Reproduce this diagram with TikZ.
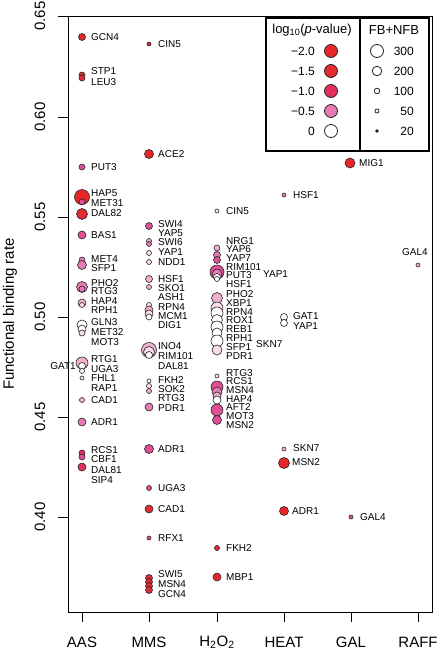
\documentclass[tikz,border=0pt]{standalone}
\usepackage{fontspec}
\setmainfont{Liberation Sans}

%% Colours for log10(p-value), from -2.0 (red) to 0 (white)
\definecolor{pvA}{HTML}{E8262A}
\definecolor{pvB}{HTML}{E22B33}
\definecolor{pvC}{HTML}{E1305A}
\definecolor{pvD}{HTML}{DF4F95}
\definecolor{pvE}{HTML}{E57AB5}
\definecolor{pvF}{HTML}{F1B0CF}
\definecolor{pvG}{HTML}{FADCEA}

\begin{document}
\begin{tikzpicture}[
    x=1pt, y=-1pt, %% one unit is one pixel of the plot, y runs down
    frame/.style={
        draw=black,
        line width=1pt
    },
    legframe/.style={
        draw=black,
        line width=1.3pt
    },
    dot/.style={
        draw=black!85,
        line width=0.6pt
    },
    legdot/.style={
        circle,
        draw=black!85,
        line width=0.8pt,
        inner sep=0pt
    },
    lbl/.style={
        anchor=west,
        inner sep=0pt,
        font=\fontsize{10}{11}\selectfont
    },
    ticklbl/.style={
        rotate=90,
        inner sep=0pt,
        font=\fontsize{15}{16}\selectfont
    },
    catlbl/.style={
        inner sep=0pt,
        font=\fontsize{15}{16}\selectfont
    },
    leghead/.style={
        inner sep=0pt,
        font=\fontsize{13}{14}\selectfont
    },
    legnum/.style={
        anchor=east,
        inner sep=0pt,
        font=\fontsize{12}{13}\selectfont
    }
]
\useasboundingbox (0,0) rectangle (440,654);

%% Plot frame
\draw[frame] (68,16) rectangle (432,612);

%% Y axis
\draw[frame] (58,16) -- (68,16);
\draw[frame] (58,117) -- (68,117);
\draw[frame] (58,217) -- (68,217);
\draw[frame] (58,317) -- (68,317);
\draw[frame] (58,417) -- (68,417);
\draw[frame] (58,517) -- (68,517);
\node[ticklbl] (y065) at (40,16) {0.65};
\node[ticklbl] (y060) at (40,117) {0.60};
\node[ticklbl] (y055) at (40,217) {0.55};
\node[ticklbl] (y050) at (40,317) {0.50};
\node[ticklbl] (y045) at (40,417) {0.45};
\node[ticklbl] (y040) at (40,517) {0.40};
\node[ticklbl] (ytitle) at (10,314) {Functional binding rate};

%% X axis
\draw[frame] (82,612) -- (82,622);
\draw[frame] (149,612) -- (149,622);
\draw[frame] (217,612) -- (217,622);
\draw[frame] (284,612) -- (284,622);
\draw[frame] (351,612) -- (351,622);
\draw[frame] (418,612) -- (418,622);
\node[catlbl] (aas) at (82,642) {AAS};
\node[catlbl] (mms) at (149,642) {MMS};
\node[catlbl] (hoo) at (217,642) {H\textsubscript{2}O\textsubscript{2}};
\node[catlbl] (heat) at (284,642) {HEAT};
\node[catlbl] (gal) at (351,642) {GAL};
\node[catlbl] (raff) at (418,642) {RAFF};

%% AAS dots
\draw[dot, fill=pvA] (82,37) circle (3.5pt);
\draw[dot, fill=pvB] (82,75) circle (3pt);
\draw[dot, fill=pvB] (82,78) circle (3pt);
\draw[dot, fill=pvD] (82,167) circle (3pt);
\draw[dot, fill=pvA] (82,197) circle (7.5pt);
\draw[dot, fill=pvD] (82,202) circle (3pt);
\draw[dot, fill=pvB] (82,214) circle (5.5pt);
\draw[dot, fill=pvD] (82,235) circle (4pt);
\draw[dot, fill=pvE] (82,260) circle (3pt);
\draw[dot, fill=pvE] (82,265) circle (4.5pt);
\draw[dot, fill=pvE] (82,287) circle (5.5pt);
\draw[dot, fill=pvE] (82,289) circle (3pt);
\draw[dot, fill=pvF] (82,303) circle (4pt);
\draw[dot, fill=pvG] (82,305) circle (2.5pt);
\draw[dot, fill=white] (82,325) circle (5pt);
\draw[dot, fill=white] (82,329) circle (4pt);
\draw[dot, fill=pvG] (82,333) circle (3pt);
\draw[dot, fill=pvF] (82,363) circle (6pt);
\draw[dot, fill=white] (82,366) circle (3.5pt);
\draw[dot, fill=white] (82,371) circle (2.5pt);
\draw[dot, fill=pvG] (82,378) circle (2pt);
\draw[dot, fill=pvF] (82,400) circle (2.5pt);
\draw[dot, fill=pvE] (82,422) circle (4pt);
\draw[dot, fill=pvC] (82,453) circle (3pt);
\draw[dot, fill=pvD] (82,457) circle (3pt);
\draw[dot, fill=pvC] (82,467) circle (4pt);

%% AAS labels
\node[lbl] (aas_gcn4) at (91,37) {GCN4};
\node[lbl] (aas_stp1) at (91,71) {STP1};
\node[lbl] (aas_leu3) at (91,82) {LEU3};
\node[lbl] (aas_put3) at (91,167) {PUT3};
\node[lbl] (aas_hap5) at (91,193) {HAP5};
\node[lbl] (aas_met31) at (91,203) {MET31};
\node[lbl] (aas_dal82) at (91,213) {DAL82};
\node[lbl] (aas_bas1) at (91,235) {BAS1};
\node[lbl] (aas_met4) at (91,259) {MET4};
\node[lbl] (aas_sfp1) at (91,268) {SFP1};
\node[lbl] (aas_pho2) at (91,283) {PHO2};
\node[lbl] (aas_rtg3) at (91,291) {RTG3};
\node[lbl] (aas_hap4) at (91,301) {HAP4};
\node[lbl] (aas_rph1) at (91,310) {RPH1};
\node[lbl] (aas_gln3) at (91,322) {GLN3};
\node[lbl] (aas_met32) at (91,332) {MET32};
\node[lbl] (aas_mot3) at (91,342) {MOT3};
\node[lbl] (aas_rtg1) at (91,359) {RTG1};
\node[lbl] (aas_uga3) at (91,369) {UGA3};
\node[lbl] (aas_fhl1) at (91,378) {FHL1};
\node[lbl] (aas_rap1) at (91,388) {RAP1};
\node[lbl] (aas_cad1) at (91,400) {CAD1};
\node[lbl] (aas_adr1) at (91,422) {ADR1};
\node[lbl] (aas_rcs1) at (91,450) {RCS1};
\node[lbl] (aas_cbf1) at (91,459) {CBF1};
\node[lbl] (aas_dal81) at (91,470) {DAL81};
\node[lbl] (aas_sip4) at (91,480) {SIP4};
\node[lbl, anchor=east] (aas_gat1) at (76,366) {GAT1};

%% MMS dots
\draw[dot, fill=pvB] (149,44) circle (2pt);
\draw[dot, fill=pvA] (149,154) circle (4.5pt);
\draw[dot, fill=pvD] (149,226) circle (3.5pt);
\draw[dot, fill=pvF] (149,241) circle (2.5pt);
\draw[dot, fill=pvE] (149,244) circle (2.5pt);
\draw[dot, fill=pvG] (149,253) circle (2.5pt);
\draw[dot, fill=pvG] (149,262) circle (2.5pt);
\draw[dot, fill=pvF] (149,279) circle (3.5pt);
\draw[dot, fill=pvF] (149,287) circle (2.5pt);
\draw[dot, fill=pvG] (149,305) circle (2.5pt);
\draw[dot, fill=pvF] (149,310) circle (4pt);
\draw[dot, fill=pvG] (149,314) circle (4pt);
\draw[dot, fill=white] (149,317) circle (3pt);
\draw[dot, fill=pvF] (149,350) circle (7.5pt);
\draw[dot, fill=pvG] (149,352) circle (5.5pt);
\draw[dot, fill=white] (149,355) circle (3.5pt);
\draw[dot, fill=white] (149,381) circle (2pt);
\draw[dot, fill=pvG] (149,386) circle (2.5pt);
\draw[dot, fill=pvF] (149,391) circle (2.5pt);
\draw[dot, fill=pvE] (149,407) circle (4pt);
\draw[dot, fill=pvD] (149,449) circle (4.5pt);
\draw[dot, fill=pvD] (149,488) circle (2.5pt);
\draw[dot, fill=pvB] (149,509) circle (4pt);
\draw[dot, fill=pvD] (149,538) circle (2pt);
\draw[dot, fill=pvB] (149,578) circle (3.5pt);
\draw[dot, fill=pvA] (149,582) circle (3.5pt);
\draw[dot, fill=pvB] (149,586) circle (3.5pt);
\draw[dot, fill=pvB] (149,590) circle (3.5pt);

%% MMS labels
\node[lbl] (mms_cin5) at (158,44) {CIN5};
\node[lbl] (mms_ace2) at (158,154) {ACE2};
\node[lbl] (mms_swi4) at (158,224) {SWI4};
\node[lbl] (mms_yap5) at (158,233) {YAP5};
\node[lbl] (mms_swi6) at (158,242) {SWI6};
\node[lbl] (mms_yap1) at (158,252) {YAP1};
\node[lbl] (mms_ndd1) at (158,262) {NDD1};
\node[lbl] (mms_hsf1) at (158,279) {HSF1};
\node[lbl] (mms_sko1) at (158,288) {SKO1};
\node[lbl] (mms_ash1) at (158,297) {ASH1};
\node[lbl] (mms_rpn4) at (158,307) {RPN4};
\node[lbl] (mms_mcm1) at (158,316) {MCM1};
\node[lbl] (mms_dig1) at (158,325) {DIG1};
\node[lbl] (mms_ino4) at (158,346) {INO4};
\node[lbl] (mms_rim101) at (158,356) {RIM101};
\node[lbl] (mms_dal81) at (158,366) {DAL81};
\node[lbl] (mms_fkh2) at (158,380) {FKH2};
\node[lbl] (mms_sok2) at (158,389) {SOK2};
\node[lbl] (mms_rtg3) at (158,398) {RTG3};
\node[lbl] (mms_pdr1) at (158,408) {PDR1};
\node[lbl] (mms_adr1) at (158,449) {ADR1};
\node[lbl] (mms_uga3) at (158,488) {UGA3};
\node[lbl] (mms_cad1) at (158,509) {CAD1};
\node[lbl] (mms_rfx1) at (158,538) {RFX1};
\node[lbl] (mms_swi5) at (158,574) {SWI5};
\node[lbl] (mms_msn4) at (158,584) {MSN4};
\node[lbl] (mms_gcn4) at (158,594) {GCN4};

%% H2O2 dots
\draw[dot, fill=pvG] (217,211) circle (2pt);
\draw[dot, fill=pvF] (217,248) circle (3pt);
\draw[dot, fill=pvE] (217,255) circle (3.5pt);
\draw[dot, fill=pvD] (217,260) circle (3.5pt);
\draw[dot, fill=pvD] (217,272) circle (7pt);
\draw[dot, fill=pvE] (217,274) circle (5pt);
\draw[dot, fill=white] (217,277) circle (3.5pt);
\draw[dot, fill=white] (217,279) circle (2.5pt);
\draw[dot, fill=pvF] (217,298) circle (5.5pt);
\draw[dot, fill=pvG] (217,308) circle (6pt);
\draw[dot, fill=white] (217,313) circle (6pt);
\draw[dot, fill=white] (217,320) circle (5.5pt);
\draw[dot, fill=white] (217,327) circle (6pt);
\draw[dot, fill=white] (217,333) circle (5pt);
\draw[dot, fill=white] (217,341) circle (6pt);
\draw[dot, fill=pvG] (217,350) circle (5pt);
\draw[dot, fill=pvG] (217,376) circle (2pt);
\draw[dot, fill=pvD] (217,387) circle (6pt);
\draw[dot, fill=pvE] (217,392) circle (5pt);
\draw[dot, fill=pvF] (217,396) circle (4pt);
\draw[dot, fill=white] (217,400) circle (4pt);
\draw[dot, fill=pvD] (217,410) circle (6pt);
\draw[dot, fill=pvD] (217,420) circle (4.5pt);
\draw[dot, fill=pvB] (217,548) circle (2.5pt);
\draw[dot, fill=pvA] (217,577) circle (4pt);

%% H2O2 labels
\node[lbl] (hoo_cin5) at (226,211) {CIN5};
\node[lbl] (hoo_nrg1) at (226,241) {NRG1};
\node[lbl] (hoo_yap6) at (226,249) {YAP6};
\node[lbl] (hoo_yap7) at (226,258) {YAP7};
\node[lbl] (hoo_rim101) at (226,267) {RIM101};
\node[lbl] (hoo_put3) at (226,275) {PUT3};
\node[lbl] (hoo_hsf1) at (226,284) {HSF1};
\node[lbl] (hoo_pho2) at (226,294) {PHO2};
\node[lbl] (hoo_xbp1) at (226,303) {XBP1};
\node[lbl] (hoo_rpn4) at (226,312) {RPN4};
\node[lbl] (hoo_rox1) at (226,320) {ROX1};
\node[lbl] (hoo_reb1) at (226,329) {REB1};
\node[lbl] (hoo_rph1) at (226,338) {RPH1};
\node[lbl] (hoo_sfp1) at (226,347) {SFP1};
\node[lbl] (hoo_pdr1) at (226,356) {PDR1};
\node[lbl] (hoo_rtg3) at (226,373) {RTG3};
\node[lbl] (hoo_rcs1) at (226,381) {RCS1};
\node[lbl] (hoo_msn4) at (226,390) {MSN4};
\node[lbl] (hoo_hap4) at (226,399) {HAP4};
\node[lbl] (hoo_aft2) at (226,407) {AFT2};
\node[lbl] (hoo_mot3) at (226,416) {MOT3};
\node[lbl] (hoo_msn2) at (226,425) {MSN2};
\node[lbl] (hoo_fkh2) at (226,548) {FKH2};
\node[lbl] (hoo_mbp1) at (226,577) {MBP1};
\node[lbl] (hoo_yap1) at (263,274) {YAP1};
\node[lbl] (hoo_skn7) at (256,344) {SKN7};

%% HEAT, GAL and RAFF dots
\draw[dot, fill=pvE] (284,195) circle (2pt);
\draw[dot, fill=white] (284,317) circle (3.5pt);
\draw[dot, fill=white] (284,323) circle (3.5pt);
\draw[dot, fill=pvF] (284,449) circle (2pt);
\draw[dot, fill=pvA] (284,463) circle (5.5pt);
\draw[dot, fill=pvA] (284,511) circle (4.5pt);
\draw[dot, fill=pvA] (350,163) circle (5pt);
\draw[dot, fill=pvD] (351,517) circle (2pt);
\draw[dot, fill=pvF] (418,265) circle (2pt);

%% HEAT, GAL and RAFF labels
\node[lbl] (heat_hsf1) at (293,195) {HSF1};
\node[lbl] (heat_gat1) at (293,316) {GAT1};
\node[lbl] (heat_yap1) at (293,326) {YAP1};
\node[lbl] (heat_skn7) at (293,448) {SKN7};
\node[lbl] (heat_msn2) at (292,462) {MSN2};
\node[lbl] (heat_adr1) at (292,511) {ADR1};
\node[lbl] (gal_mig1) at (359,163) {MIG1};
\node[lbl] (gal_gal4) at (360,517) {GAL4};
\node[lbl, anchor=center] (raff_gal4) at (415,252) {GAL4};

%% Legend box
\draw[legframe, fill=white] (266,18) rectangle (429,151);
\draw[legframe] (360,18) -- (360,151);
\node[leghead] (pv_head) at (312,30) {log\textsubscript{10}(\textit{p}-value)};
\node[leghead] (n_head) at (394,30) {FB+NFB};

%% Legend, p-value column
\node[legdot, fill=pvA, minimum size=13pt] (pv20) at (331,51) {};
\node[legdot, fill=pvB, minimum size=13pt] (pv15) at (331,71) {};
\node[legdot, fill=pvC, minimum size=13pt] (pv10) at (331,91) {};
\node[legdot, fill=pvE, minimum size=13pt] (pv05) at (331,111) {};
\node[legdot, fill=white, minimum size=13pt] (pv00) at (331,131) {};
\node[legnum] (pv20_l) at (315,51) {−2.0};
\node[legnum] (pv15_l) at (315,71) {−1.5};
\node[legnum] (pv10_l) at (315,91) {−1.0};
\node[legnum] (pv05_l) at (315,111) {−0.5};
\node[legnum] (pv00_l) at (315,131) {0};

%% Legend, FB+NFB column
\node[legdot, fill=white, minimum size=13pt] (n300) at (377,51) {};
\node[legdot, fill=white, minimum size=9.5pt] (n200) at (377,71) {};
\node[legdot, fill=white, minimum size=5.6pt] (n100) at (377,91) {};
\node[legdot, fill=white, minimum size=4pt] (n50) at (377,111) {};
\node[legdot, fill=black, minimum size=2.6pt] (n20) at (377,131) {};
\node[legnum] (n300_l) at (414,51) {300};
\node[legnum] (n200_l) at (414,71) {200};
\node[legnum] (n100_l) at (414,91) {100};
\node[legnum] (n50_l) at (414,111) {50};
\node[legnum] (n20_l) at (414,131) {20};

\end{tikzpicture}
\end{document}
